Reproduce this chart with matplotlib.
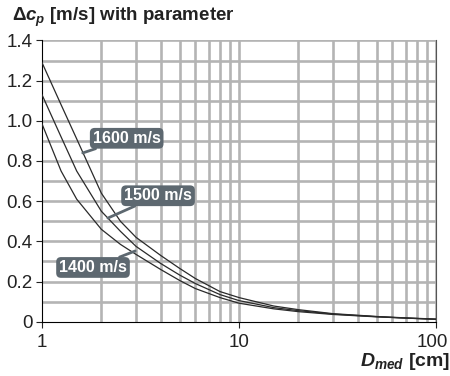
import matplotlib
matplotlib.use("Agg")
import matplotlib.pyplot as plt
from matplotlib.transforms import ScaledTranslation

plt.rcParams['font.family'] = ['Liberation Sans', 'DejaVu Sans']
plt.rcParams['mathtext.fontset'] = 'custom'
plt.rcParams['mathtext.rm'] = 'Liberation Sans:bold'
plt.rcParams['mathtext.it'] = 'Liberation Sans:bold:italic'

# median diameter [cm]
d_med = [1, 1.25, 1.5, 2, 2.5, 3, 4, 5, 6, 8, 10, 15, 20, 30, 50, 70, 100]

# delta c_p [m/s] for each parameter value
dcp_1600 = [1.29, 1.08, 0.91, 0.64, 0.50, 0.42, 0.33, 0.265, 0.215, 0.15, 0.12,
            0.078, 0.06, 0.04, 0.026, 0.019, 0.013]
dcp_1500 = [1.13, 0.92, 0.75, 0.55, 0.45, 0.375, 0.29, 0.232, 0.19, 0.135, 0.105,
            0.07, 0.055, 0.038, 0.025, 0.018, 0.012]
dcp_1400 = [0.985, 0.75, 0.61, 0.46, 0.385, 0.335, 0.26, 0.205, 0.165, 0.12, 0.092,
            0.064, 0.05, 0.036, 0.024, 0.018, 0.012]

series = [("1600 m/s", dcp_1600), ("1500 m/s", dcp_1500), ("1400 m/s", dcp_1400)]
# label box centre and arrow tip (data coords)
label_pos = {
    "1600 m/s": ((2.69, 0.913), (1.61, 0.84)),
    "1500 m/s": ((3.88, 0.627), (2.16, 0.516)),
    "1400 m/s": ((1.815, 0.27), (2.97, 0.352)),
}

fig = plt.figure(figsize=(4.5, 3.76), dpi=100)
ax = fig.add_axes([0.0933, 0.1444, 0.876, 0.748])

grid_c = '#b4b4b4'
ax.set_xscale('log')
ax.set_xlim(1, 100)
ax.set_ylim(0, 1.4)

# grid: every integer step per decade, every 0.1 in y
for v in list(range(2, 10)) + list(range(10, 101, 10)):
    ax.axvline(v, color=grid_c, lw=1.9, zorder=0)
for k in range(1, 15):
    ax.axhline(k * 0.1, color=grid_c, lw=1.9, zorder=0)

for name, vals in series:
    ax.plot(d_med, vals, color='#2a2a2a', lw=0.9, zorder=3)

box_c = '#5d6870'
for name, (txt, tip) in label_pos.items():
    ax.annotate(name, xy=tip, xytext=txt, ha='center', va='center',
                color='white', fontsize=11.5, fontweight='bold', zorder=5,
                bbox=dict(boxstyle='round,pad=0.18,rounding_size=0.3', fc=box_c, ec='none'),
                arrowprops=dict(arrowstyle='-', color=box_c, lw=2, shrinkA=0, shrinkB=0))

ax.set_yticks([0, 0.2, 0.4, 0.6, 0.8, 1.0, 1.2, 1.4])
ax.set_yticklabels(['0', '0.2', '0.4', '0.6', '0.8', '1.0', '1.2', '1.4'])
ax.set_xticks([1, 10, 100])
ax.set_xticklabels(['1', '10', '100'])
ax.minorticks_off()
ax.tick_params(axis='both', labelsize=13.5, colors='#222222', length=4, width=0.8,
               direction='out')
ax.tick_params(axis='x', pad=5)
ax.tick_params(axis='y', pad=3)

# keep the last x label inside the figure
last = ax.get_xticklabels()[-1]
last.set_transform(last.get_transform() + ScaledTranslation(-3 / 72, 0, fig.dpi_scale_trans))

ax.spines['top'].set_visible(False)
ax.spines['right'].set_color('#555555')
ax.spines['right'].set_linewidth(0.8)
ax.spines['left'].set_linewidth(0.8)
ax.spines['bottom'].set_linewidth(0.8)

fig.text(0.027, 0.945, r"$\Delta c_p$ [m/s] with parameter", fontsize=13.5,
         fontweight='bold', color='#222222', ha='left', va='baseline')
fig.text(1.0, 0.027, r"$D_{med}$ [cm]", fontsize=14, fontweight='bold',
         color='#222222', ha='right', va='baseline')

fig.savefig('out.png', dpi=100)
